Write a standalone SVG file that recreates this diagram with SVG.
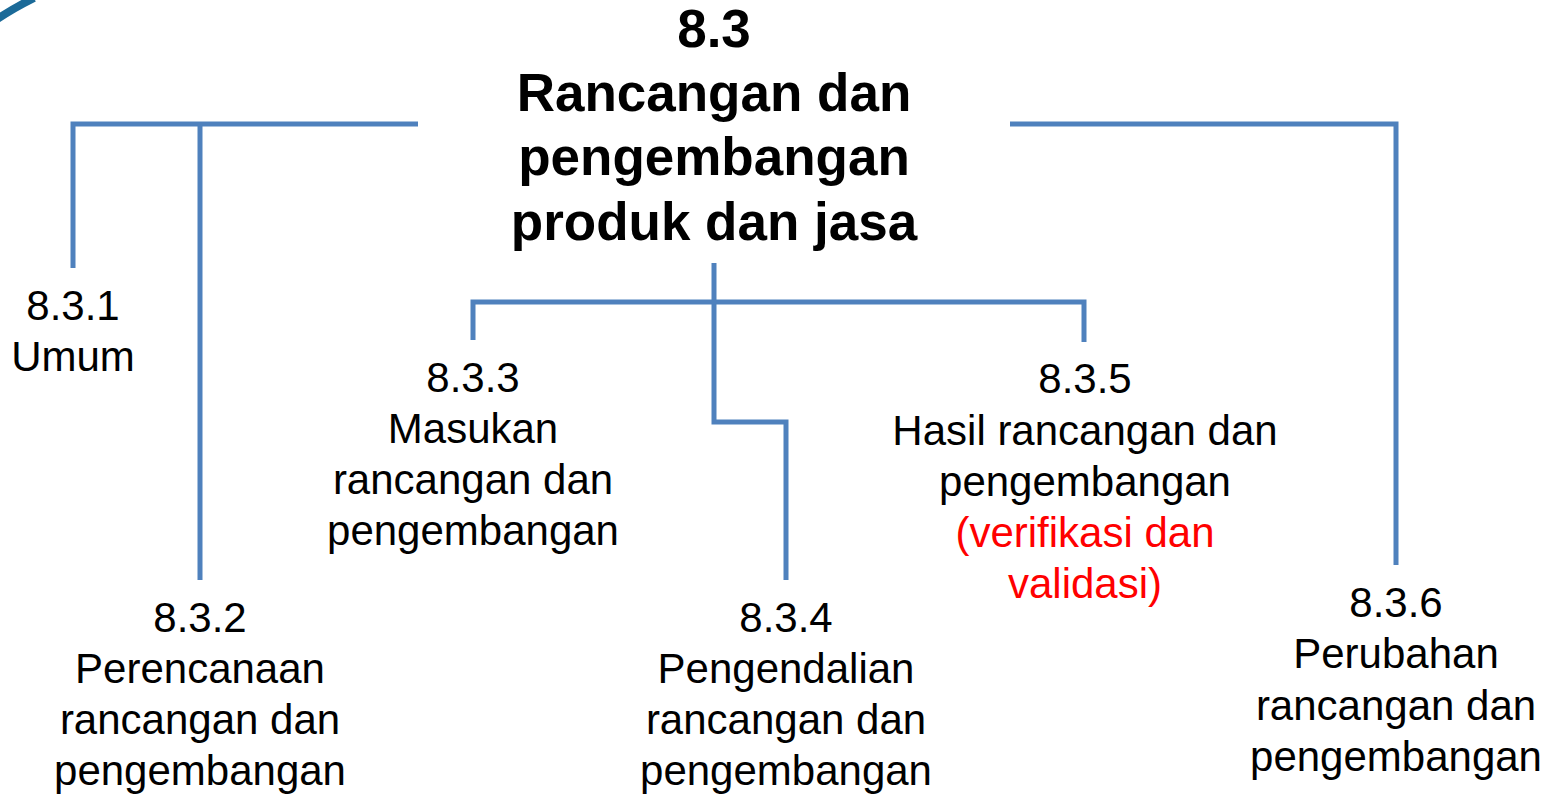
<svg xmlns="http://www.w3.org/2000/svg" width="1560" height="796" viewBox="0 0 1560 796">
  <style>
    .conn { fill: none; stroke: #4F81BD; stroke-width: 5; stroke-linejoin: miter; }
    .title { font-family: "Liberation Sans", Arial, sans-serif; font-weight: bold; font-size: 53px; fill: #000; text-anchor: middle; }
    .lbl { font-family: "Liberation Sans", Arial, sans-serif; font-size: 42px; fill: #000; text-anchor: middle; }
    .red { fill: #FF0000; }
  </style>
  <rect width="1560" height="796" fill="#FFFFFF"/>
  <!-- corner decoration -->
  <path d="M -4 20 Q 12 9 34 -2" fill="none" stroke="#1B6A98" stroke-width="8"/>

  <g id="connectors">
    <path class="conn" d="M 418 124 H 73 V 268"/>
    <path class="conn" d="M 200 124 V 580"/>
    <path class="conn" d="M 1010 124 H 1396 V 565"/>
    <path class="conn" d="M 714 263 V 422 H 786 V 580"/>
    <path class="conn" d="M 473 340 V 302 H 1084 V 342"/>
  </g>

  <g id="node-8-3">
    <text class="title" x="714" y="47">8.3</text>
    <text class="title" x="714" y="111">Rancangan dan</text>
    <text class="title" x="714" y="175">pengembangan</text>
    <text class="title" x="714" y="240">produk dan jasa</text>
  </g>

  <g id="node-8-3-1">
    <text class="lbl" x="73" y="320">8.3.1</text>
    <text class="lbl" x="73" y="371">Umum</text>
  </g>

  <g id="node-8-3-2">
    <text class="lbl" x="200" y="632">8.3.2</text>
    <text class="lbl" x="200" y="683">Perencanaan</text>
    <text class="lbl" x="200" y="734">rancangan dan</text>
    <text class="lbl" x="200" y="785">pengembangan</text>
  </g>

  <g id="node-8-3-3">
    <text class="lbl" x="473" y="392">8.3.3</text>
    <text class="lbl" x="473" y="443">Masukan</text>
    <text class="lbl" x="473" y="494">rancangan dan</text>
    <text class="lbl" x="473" y="545">pengembangan</text>
  </g>

  <g id="node-8-3-4">
    <text class="lbl" x="786" y="632">8.3.4</text>
    <text class="lbl" x="786" y="683">Pengendalian</text>
    <text class="lbl" x="786" y="734">rancangan dan</text>
    <text class="lbl" x="786" y="785">pengembangan</text>
  </g>

  <g id="node-8-3-5">
    <text class="lbl" x="1085" y="393">8.3.5</text>
    <text class="lbl" x="1085" y="445">Hasil rancangan dan</text>
    <text class="lbl" x="1085" y="496">pengembangan</text>
    <text class="lbl red" x="1085" y="547">(verifikasi dan</text>
    <text class="lbl red" x="1085" y="598">validasi)</text>
  </g>

  <g id="node-8-3-6">
    <text class="lbl" x="1396" y="617">8.3.6</text>
    <text class="lbl" x="1396" y="668">Perubahan</text>
    <text class="lbl" x="1396" y="720">rancangan dan</text>
    <text class="lbl" x="1396" y="771">pengembangan</text>
  </g>
</svg>
